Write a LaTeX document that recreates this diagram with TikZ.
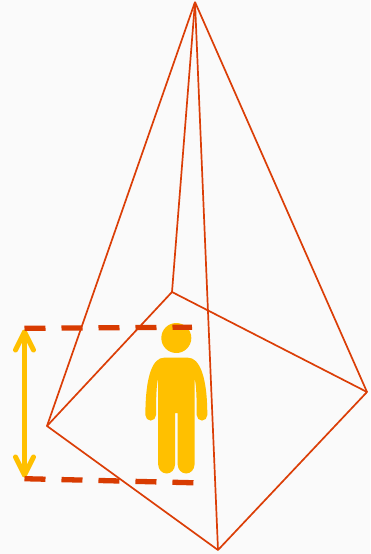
\documentclass[tikz,border=0pt]{standalone}
\definecolor{bgc}{HTML}{FAFAFA}
\definecolor{edgec}{HTML}{DB3E07}
\definecolor{dashc}{HTML}{D83B01}
\definecolor{yel}{HTML}{FFC000}
\tikzset{
  edgeline/.style={draw=edgec,line width=1.7pt,line join=round},
  levelline/.style={draw=dashc,line width=5.3pt,dash pattern=on 21pt off 16pt},
  heightarrow/.style={draw=yel,line width=5pt,line cap=round,line join=round},
}
\begin{document}
\begin{tikzpicture}[x=1pt,y=-1pt]
\fill[bgc] (0,0) rectangle (370,554);
\useasboundingbox (0,0) rectangle (370,554);
\coordinate (apex) at (195,2);
\coordinate (a) at (47,426);
\coordinate (b) at (172,292);
\coordinate (c) at (367,392);
\coordinate (d) at (218,550);
\coordinate (t1) at (24.5,328.3);
\coordinate (t2) at (192,327.2);
\coordinate (u1) at (24.5,478.7);
\coordinate (u2) at (195,482.8);
\coordinate (ar1) at (24.5,332);
\coordinate (ar2) at (24.5,475);
\coordinate (ar1l) at (15.5,350);
\coordinate (ar1r) at (33.5,350);
\coordinate (ar2l) at (15.5,457);
\coordinate (ar2r) at (33.5,457);
% person
\fill[yel] (176.3,338) circle (15);
\fill[yel] (164,357.7) -- (188,357.7)
  .. controls (199,357.7) and (207.3,375) .. (207.3,415)
  arc[start angle=0,end angle=180,x radius=5.3,y radius=5.6]
  .. controls (196.7,400) and (196.5,385) .. (194.5,378)
  -- (194.5,464.5)
  arc[start angle=0,end angle=180,x radius=8.4,y radius=9]
  -- (177.7,413) -- (175,413) -- (175,464.5)
  arc[start angle=0,end angle=180,x radius=8.4,y radius=9]
  -- (158.2,378)
  .. controls (156.3,385) and (156,400) .. (156,415)
  arc[start angle=0,end angle=180,x radius=5.3,y radius=5.6]
  .. controls (145.4,375) and (153,357.7) .. (164,357.7) -- cycle;
% arrow
\draw[heightarrow] (ar1) -- (ar2);
\draw[heightarrow] (ar1l) -- (ar1) -- (ar1r);
\draw[heightarrow] (ar2l) -- (ar2) -- (ar2r);
% pyramid
\draw[edgeline] (a) -- (b) -- (c) -- (d) -- cycle;
\draw[edgeline] (apex) -- (a);
\draw[edgeline] (apex) -- (b);
\draw[edgeline] (apex) -- (c);
\draw[edgeline] (apex) -- (d);
% levels
\draw[levelline] (t1) -- (t2);
\draw[levelline] (u1) -- (u2);
\end{tikzpicture}
\end{document}
